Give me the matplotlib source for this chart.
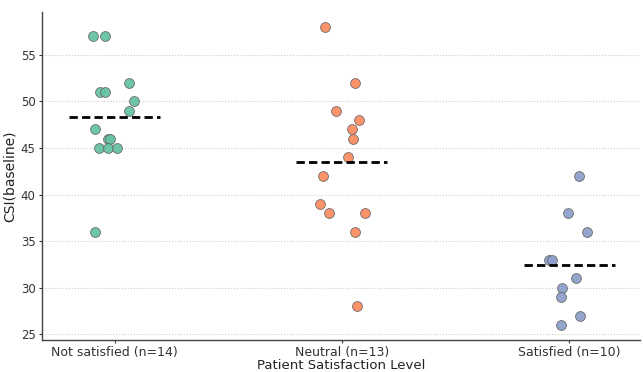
import matplotlib
matplotlib.use("Agg")
import matplotlib.pyplot as plt
import numpy as np

categories = ["Not satisfied (n=14)", "Neutral (n=13)", "Satisfied (n=10)"]
not_satisfied = [57, 57, 52, 51, 51, 50, 49, 47, 46, 46, 45, 45, 45, 36]
neutral = [58, 52, 49, 48, 47, 46, 44, 42, 39, 38, 38, 36, 28]
satisfied = [42, 38, 36, 33, 33, 31, 30, 29, 27, 26]
groups = [not_satisfied, neutral, satisfied]

# horizontal jitter (category units)
jitter_not = [-0.093, -0.044, 0.062, -0.062, -0.044, 0.084, 0.062, -0.084,
              -0.031, -0.022, -0.070, -0.031, 0.009, -0.084]
jitter_neu = [-0.075, 0.057, -0.026, 0.075, 0.044, 0.048, 0.026, -0.084,
              -0.097, -0.057, 0.101, 0.057, 0.066]
jitter_sat = [0.044, -0.004, 0.079, -0.088, -0.075, 0.031, -0.031, -0.035,
              0.048, -0.035]
jitters = [jitter_not, jitter_neu, jitter_sat]

colors = ["#66c2a5", "#fc8d62", "#8da0cb"]

fig = plt.figure(figsize=(6.43, 3.72), dpi=100)
ax = fig.add_axes([0.065, 0.086, 0.93, 0.882])

for i, (vals, jit, c) in enumerate(zip(groups, jitters, colors)):
    xs = i + np.array(jit)
    ax.scatter(xs, vals, s=50, color=c, edgecolor="#666666", linewidth=0.6,
               alpha=0.95, zorder=3)
    m = np.mean(vals)
    ax.plot([i - 0.2, i + 0.2], [m, m], color="black", linestyle="--",
            linewidth=2, dashes=(3, 1.5), zorder=4)

ax.set_xticks(range(len(categories)))
ax.set_xticklabels(categories, fontsize=9, color="#333333")
ax.set_xlim(-0.32, 2.31)
ax.set_ylim(24.4, 59.6)
ax.set_yticks([25, 30, 35, 40, 45, 50, 55])
ax.tick_params(axis="y", labelsize=8.5, colors="#333333", length=2.5, pad=2)
ax.tick_params(axis="x", length=2.5, colors="#333333", pad=2)
ax.set_ylabel("CSI(baseline)", fontsize=10, color="#222222", labelpad=3)
ax.set_xlabel("Patient Satisfaction Level", fontsize=9.5, color="#222222", labelpad=0)
ax.grid(axis="y", linestyle=":", color="#cccccc", linewidth=0.8, zorder=0)
ax.set_axisbelow(True)
for s in ["top", "right"]:
    ax.spines[s].set_visible(False)
for s in ["left", "bottom"]:
    ax.spines[s].set_color("#444444")
    ax.spines[s].set_linewidth(1.0)

fig.savefig("out.png", dpi=100)
